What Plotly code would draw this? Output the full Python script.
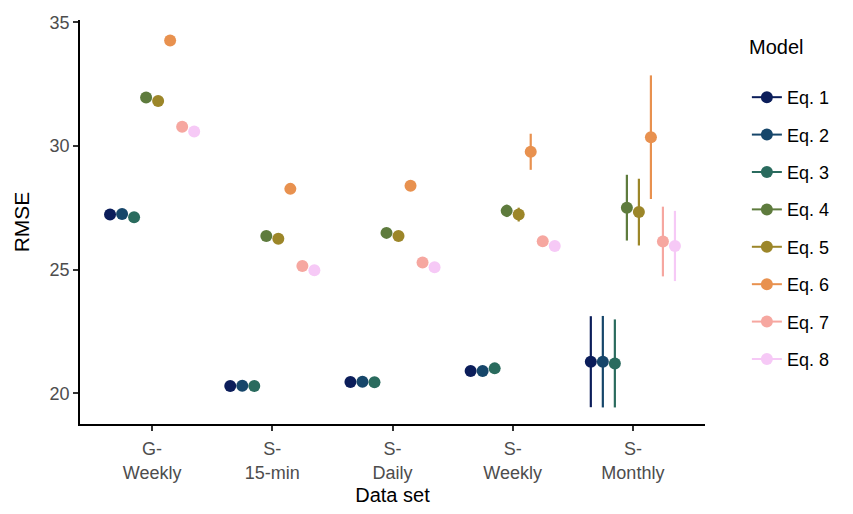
import plotly.graph_objects as go

categories = ["G-<br>Weekly", "S-<br>15-min", "S-<br>Daily", "S-<br>Weekly", "S-<br>Monthly"]
models = ["Eq. 1", "Eq. 2", "Eq. 3", "Eq. 4", "Eq. 5", "Eq. 6", "Eq. 7", "Eq. 8"]
colors = ["#0b1d5a", "#16466a", "#2a6b5e", "#5e7b3d", "#9c8629", "#e8914f", "#f6a7a0", "#f6c9f6"]

# RMSE per model, per data set
rmse = {
    "Eq. 1": [27.23, 20.30, 20.46, 20.90, 21.28],
    "Eq. 2": [27.25, 20.31, 20.47, 20.90, 21.28],
    "Eq. 3": [27.12, 20.30, 20.45, 21.01, 21.21],
    "Eq. 4": [31.97, 26.36, 26.49, 27.38, 27.51],
    "Eq. 5": [31.82, 26.25, 26.36, 27.23, 27.33],
    "Eq. 6": [34.27, 28.27, 28.40, 29.77, 30.36],
    "Eq. 7": [30.78, 25.15, 25.29, 26.15, 26.14],
    "Eq. 8": [30.59, 24.98, 25.10, 25.96, 25.96],
}
# half-width of the error bars
err = {
    "Eq. 1": [0.05, 0.05, 0.05, 0.08, 1.84],
    "Eq. 2": [0.05, 0.05, 0.05, 0.08, 1.85],
    "Eq. 3": [0.05, 0.05, 0.05, 0.08, 1.78],
    "Eq. 4": [0.05, 0.05, 0.05, 0.25, 1.33],
    "Eq. 5": [0.05, 0.05, 0.05, 0.28, 1.35],
    "Eq. 6": [0.05, 0.05, 0.05, 0.73, 2.50],
    "Eq. 7": [0.05, 0.05, 0.05, 0.10, 1.41],
    "Eq. 8": [0.05, 0.05, 0.05, 0.10, 1.42],
}

dodge_width = 0.8
n = len(models)
fig = go.Figure()
for i, m in enumerate(models):
    off = -dodge_width / 2 + dodge_width / n * (i + 0.5)
    xs = [k + 1 + off for k in range(len(categories))]
    fig.add_trace(go.Scatter(
        x=xs, y=rmse[m], mode="markers", showlegend=False,
        marker=dict(color=colors[i], size=12, line=dict(width=0)),
        error_y=dict(type="data", array=err[m], visible=True, color=colors[i],
                     thickness=2.2, width=0),
        hovertemplate=m + ": %{y}<extra></extra>",
    ))
    fig.add_trace(go.Scatter(
        x=[None], y=[None], mode="lines+markers", name=m, legendgroup=m,
        line=dict(color=colors[i], width=2),
        marker=dict(color=colors[i], size=12),
    ))

font_family = "Liberation Sans, Arial, sans-serif"
fig.update_layout(
    width=853, height=514,
    margin=dict(l=80, r=148, t=20, b=90),
    plot_bgcolor="white", paper_bgcolor="white",
    font=dict(family=font_family, color="#222222"),
    xaxis=dict(
        range=[0.4, 5.6], tickmode="array", tickvals=[1, 2, 3, 4, 5], ticktext=categories,
        showline=True, linecolor="black", linewidth=1.5, showgrid=False, zeroline=False,
        ticks="outside", ticklen=5, tickwidth=1.5, tickcolor="#333333",
        ticklabelstandoff=3,
        tickfont=dict(size=18, color="#4d4d4d", family=font_family),
        title=dict(text="Data set", font=dict(size=20, color="black"), standoff=6),
    ),
    yaxis=dict(
        range=[18.76, 35.1], tickvals=[20, 25, 30, 35],
        showline=True, linecolor="black", linewidth=1.5, showgrid=False, zeroline=False,
        ticks="outside", ticklen=5, tickwidth=1.5, tickcolor="#333333",
        tickfont=dict(size=18, color="#4d4d4d", family=font_family),
        title=dict(text="RMSE", font=dict(size=21, color="black"), standoff=14),
    ),
    legend=dict(
        x=1.067, y=0.854, xanchor="left", yanchor="top",
        font=dict(size=18, color="black"),
        tracegroupgap=11, itemwidth=30, bgcolor="rgba(0,0,0,0)",
    ),
    annotations=[dict(
        text="Model", xref="paper", yref="paper", x=(747 - 80) / 625, y=1 - (47 - 20) / 404,
        xanchor="left", yanchor="middle", showarrow=False,
        font=dict(size=20, color="black", family=font_family),
    )],
)

fig.write_html("out.html")
